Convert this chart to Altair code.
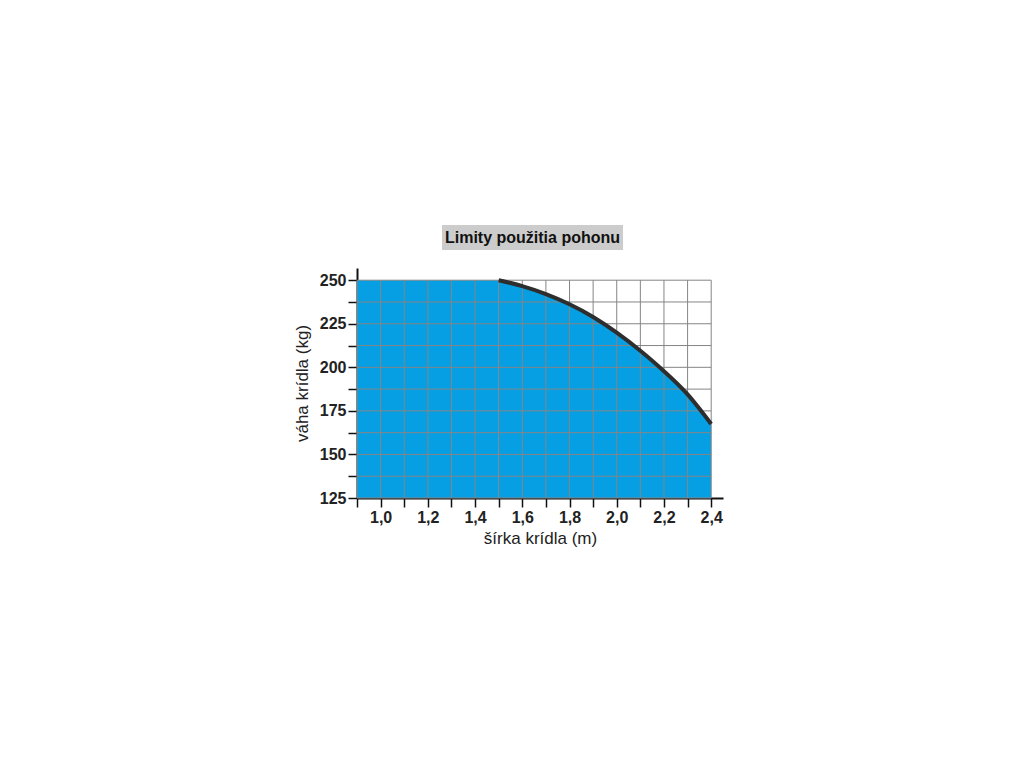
import altair as alt
import pandas as pd

title_text = "Limity použitia pohonu"
x_title = "šírka krídla (m)"
y_title = "váha krídla (kg)"

# boundary of the allowed region
flat_x = [0.9, 1.5]
flat_y = [250, 250]
curve_x = [1.5, 1.6, 1.7, 1.8, 1.9, 2.0, 2.1, 2.2, 2.3, 2.4]
curve_y = [250, 246.6, 242.0, 236.2, 228.9, 219.9, 209.5, 197.8, 184.5, 167.5]

# grid / tick positions
x_ticks = [0.9, 1.0, 1.1, 1.2, 1.3, 1.4, 1.5, 1.6, 1.7, 1.8, 1.9, 2.0, 2.1, 2.2, 2.3, 2.4]
y_ticks = [125, 137.5, 150, 162.5, 175, 187.5, 200, 212.5, 225, 237.5, 250]

x_min, x_max = 0.9, 2.4
y_min, y_max = 125, 250

FONT = "Liberation Sans"
BLUE = "#069fe3"
GRID = "#858585"

flat_df = pd.DataFrame({"x": flat_x, "y": flat_y, "base": [y_min] * len(flat_x)})
curve_df = pd.DataFrame({"x": curve_x, "y": curve_y, "base": [y_min] * len(curve_x)})
vgrid_df = pd.DataFrame({"x": x_ticks, "y": [y_min] * len(x_ticks), "y2": [y_max] * len(x_ticks)})
hgrid_df = pd.DataFrame({"y": y_ticks, "x": [x_min] * len(y_ticks), "x2": [x_max] * len(y_ticks)})

x_scale = alt.Scale(domain=[0.9, 2.45], nice=False, zero=False)
y_scale = alt.Scale(domain=[125, 257], nice=False, zero=False)

x_axis = alt.Axis(
    title=x_title,
    values=x_ticks,
    labelExpr="(round(datum.value*10) % 2 == 0) ? replace(format(datum.value, '.1f'), '.', ',') : ''",
    grid=False,
    titlePadding=5,
)
y_axis = alt.Axis(
    title=y_title,
    values=y_ticks,
    labelExpr="(datum.value % 25 == 0) ? format(datum.value, 'd') : ''",
    grid=False,
    titlePadding=8,
)

def X(field="x"):
    return alt.X(f"{field}:Q", scale=x_scale, axis=x_axis)

def Y(field="y"):
    return alt.Y(f"{field}:Q", scale=y_scale, axis=y_axis)

flat_area = alt.Chart(flat_df).mark_area(color=BLUE, opacity=1).encode(
    x=X(), y=Y(), y2="base:Q"
)
curve_area = alt.Chart(curve_df).mark_area(color=BLUE, opacity=1, interpolate="natural").encode(
    x=X(), y=Y(), y2="base:Q"
)
vgrid = alt.Chart(vgrid_df).mark_rule(color=GRID, strokeWidth=1).encode(
    x=X(), y=Y(), y2="y2:Q"
)
hgrid = alt.Chart(hgrid_df).mark_rule(color=GRID, strokeWidth=1).encode(
    y=Y(), x=X(), x2="x2:Q"
)
curve_line = alt.Chart(curve_df).mark_line(
    color="#2e2e2e", strokeWidth=4, interpolate="natural"
).encode(x=X(), y=Y())

title_bg = alt.Chart(pd.DataFrame({"t": [title_text]})).mark_rect(color="#cccccc").encode(
    x=alt.value(85), x2=alt.value(266), y=alt.value(-43), y2=alt.value(-18)
)
title_txt = alt.Chart(pd.DataFrame({"t": [title_text]})).mark_text(
    font=FONT, fontSize=16, fontWeight="bold", color="#111111", align="center", baseline="middle"
).encode(x=alt.value(175.5), y=alt.value(-30), text="t:N")

chart = alt.layer(
    flat_area, curve_area, vgrid, hgrid, curve_line, title_bg, title_txt
).properties(
    width=366, height=230, padding={"left": 285, "top": 217, "right": 10, "bottom": 10}
).configure_view(
    stroke=None
).configure_axis(
    domainColor="#111111",
    domainWidth=2,
    tickColor="#111111",
    tickWidth=1.5,
    tickSize=9,
    labelFont=FONT,
    labelFontSize=16,
    labelFontWeight="bold",
    labelColor="#222222",
    titleFont=FONT,
    titleFontSize=17,
    titleFontWeight="normal",
    titleColor="#222222",
    labelPadding=2,
)

chart.save("out.html", embed_options={"renderer": "svg", "actions": False})
